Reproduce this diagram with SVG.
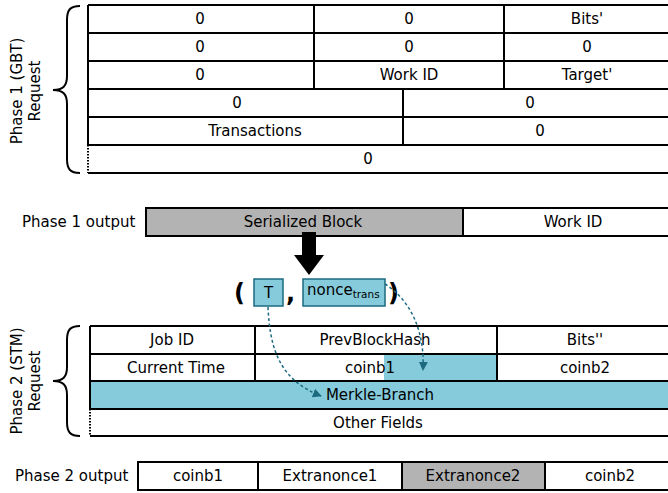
<svg xmlns="http://www.w3.org/2000/svg" width="668" height="493" viewBox="0 0 668 493">
<defs>
<style>
text{font-family:"DejaVu Sans","Liberation Sans",sans-serif;font-size:15px;fill:#000}
.c{text-anchor:middle}
.ln{stroke:#000;stroke-width:2;fill:none}
.dot{stroke:#000;stroke-width:2;stroke-dasharray:1.5 1.5;fill:none}
.blue{fill:#86cbdb}
.gray{fill:#b3b3b3}
.box{fill:#86cbdb;stroke:#1b6a80;stroke-width:1.5}
.dash{stroke:#1b6a80;stroke-width:1.5;stroke-dasharray:3 2.5;fill:none}
.brace{stroke:#000;stroke-width:2;fill:none}
.par{font-size:24px;font-weight:bold}
</style>
<marker id="ah" viewBox="0 0 10 10" refX="9" refY="5" markerWidth="9" markerHeight="9" markerUnits="userSpaceOnUse" orient="auto">
<path d="M0,0 L10,5 L0,10 Z" fill="#1b6a80"/>
</marker>
</defs>

<g id="phase1-label">
<path class="brace" d="M80 6 C70 6 67 10 67 20 L67 76 C67 86 63 90 53 90 C63 90 67 94 67 104 L67 159 C67 169 70 173 80 173"/>
<text class="c" transform="translate(22,91) rotate(-90)">Phase 1 (GBT)</text>
<text class="c" transform="translate(40,91) rotate(-90)">Request</text>
</g>

<g id="phase1-table">
<path class="ln" d="M88 5 H668 M88 33 H668 M88 61 H668 M88 89 H668 M88 117 H668 M88 145 H668 M88 173 H668"/>
<path class="ln" d="M88 5 V145 M314 5 V89 M504 5 V89 M403 89 V145"/>
<path class="dot" d="M88 145 V173"/>
<text class="c" x="200" y="24">0</text>
<text class="c" x="409" y="24">0</text>
<text class="c" x="587" y="24">Bits'</text>
<text class="c" x="200" y="52">0</text>
<text class="c" x="409" y="52">0</text>
<text class="c" x="587" y="52">0</text>
<text class="c" x="200" y="80">0</text>
<text class="c" x="409" y="80">Work ID</text>
<text class="c" x="587" y="80">Target'</text>
<text class="c" x="237" y="108">0</text>
<text class="c" x="530" y="108">0</text>
<text class="c" x="255" y="136">Transactions</text>
<text class="c" x="540" y="136">0</text>
<text class="c" x="368" y="164">0</text>
</g>

<g id="phase1-output">
<text x="22" y="227">Phase 1 output</text>
<rect class="gray" x="146" y="208" width="317" height="28"/>
<path class="ln" d="M146 208 H668 M146 236 H668 M146 207 V237 M463 208 V236"/>
<text class="c" x="303" y="227">Serialized Block</text>
<text class="c" x="573" y="227">Work ID</text>
</g>

<g id="big-arrow">
<path d="M302 232 H316 V255 H324 L309 275 L294 255 H302 Z" fill="#000"/>
</g>

<g id="tuple">
<text class="par" x="234" y="301">(</text>
<rect id="T" class="box" x="254" y="279" width="29" height="27"/>
<text class="c" x="268.5" y="298">T</text>
<text class="par" x="286" y="301">,</text>
<rect id="nonce" class="box" x="303" y="279" width="82" height="27"/>
<text x="307" y="295">nonce<tspan style="font-size:10.5px" dy="3">trans</tspan></text>
<text class="par" x="388" y="301">)</text>
</g>

<g id="phase2-label">
<path class="brace" d="M80 326 C70 326 67 330 67 340 L67 367 C67 377 63 381 53 381 C63 381 67 385 67 395 L67 422 C67 432 70 436 80 436"/>
<text class="c" transform="translate(22,381) rotate(-90)">Phase 2 (STM)</text>
<text class="c" transform="translate(40,381) rotate(-90)">Request</text>
</g>

<g id="phase2-table">
<rect class="blue" x="384" y="354" width="113" height="27"/>
<rect class="blue" x="90" y="381" width="578" height="28"/>
<path class="ln" d="M90 326 H668 M90 354 H668 M90 381 H668 M90 409 H668 M90 436 H668"/>
<path class="ln" d="M90 326 V409 M255 326 V381 M497 326 V381"/>
<path class="dot" d="M90 409 V436"/>
<text class="c" x="172" y="345">Job ID</text>
<text class="c" x="375" y="345">PrevBlockHash</text>
<text class="c" x="585" y="345">Bits''</text>
<text class="c" x="176" y="373">Current Time</text>
<text class="c" x="370" y="373">coinb1</text>
<text class="c" x="585" y="373">coinb2</text>
<text class="c" x="380" y="400">Merkle-Branch</text>
<text class="c" x="378" y="428">Other Fields</text>
</g>

<g id="connectors">
<path class="dash" d="M268 307 C270 350 280 380 321 396" marker-end="url(#ah)"/>
<path class="dash" d="M385 284 C410 300 425 330 423 370" marker-end="url(#ah)"/>
</g>

<g id="phase2-output">
<text x="15" y="481">Phase 2 output</text>
<rect class="gray" x="402" y="462" width="143" height="28"/>
<path class="ln" d="M138 462 H668 M138 490 H668 M138 461 V491 M258 462 V490 M402 462 V490 M545 462 V490"/>
<text class="c" x="198" y="481">coinb1</text>
<text class="c" x="330" y="481">Extranonce1</text>
<text class="c" x="473" y="481">Extranonce2</text>
<text class="c" x="610" y="481">coinb2</text>
</g>
</svg>
